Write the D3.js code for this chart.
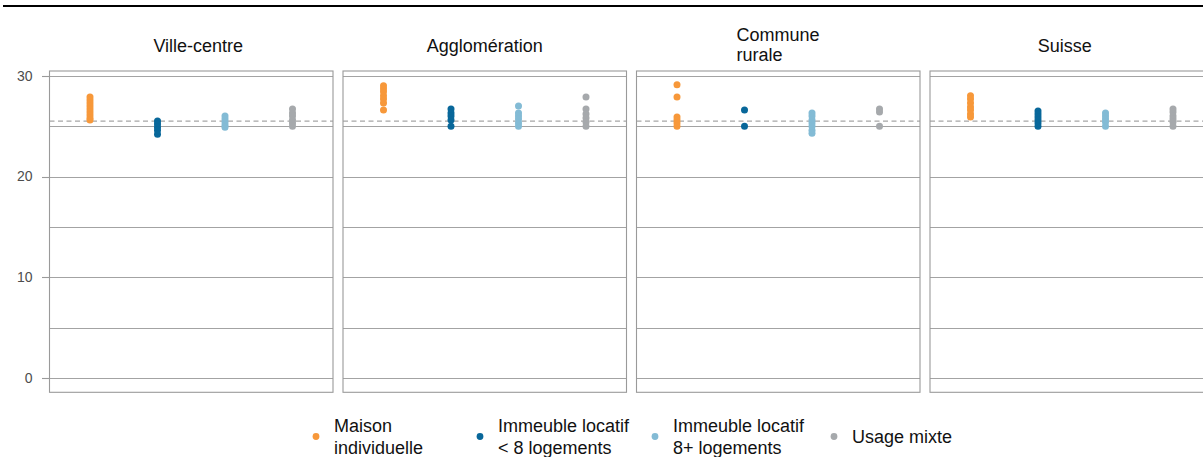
<!DOCTYPE html>
<html>
<head>
<meta charset="utf-8">
<script src="https://cdn.jsdelivr.net/npm/d3@7"></script>
<style>
  html, body { margin: 0; padding: 0; background: #fff; }
  svg { display: block; font-family: "Liberation Sans", Arial, sans-serif; }
</style>
</head>
<body>
<svg id="chart" width="1203" height="457"></svg>
<script>
// ---------- data ----------
const panels = ["Ville-centre", "Agglomération", "Commune\nrurale", "Suisse"];
const types = ["Maison individuelle", "Immeuble locatif < 8 logements", "Immeuble locatif 8+ logements", "Usage mixte"];
const legendLabels = [["Maison", "individuelle"], ["Immeuble locatif", "< 8 logements"], ["Immeuble locatif", "8+ logements"], ["Usage mixte"]];
const typeColors = ["#f7983a", "#08679a", "#83bbd5", "#a6a9ac"];
const yTicks = [0, 10, 20, 30];
const yGrid = [0, 5, 10, 15, 20, 25, 30];
const referenceValue = 25.5;

// values per panel, one array per building type (order = types)
const villeCentre = [
  [27.9, 27.6, 27.3, 27.0, 26.7, 26.4, 26.1, 25.8, 25.6],
  [25.5, 25.2, 24.9, 24.6, 24.2],
  [26.0, 25.7, 25.4, 25.1, 24.9],
  [26.7, 26.3, 26.0, 25.6, 25.3, 25.0]
];
const agglomeration = [
  [29.0, 28.7, 28.4, 28.0, 27.7, 27.3, 26.6],
  [26.7, 26.3, 26.0, 25.6, 25.0],
  [27.0, 26.3, 26.0, 25.7, 25.3, 25.0],
  [27.9, 26.7, 26.2, 25.8, 25.4, 25.0]
];
const communeRurale = [
  [29.1, 27.9, 25.9, 25.6, 25.3, 25.0],
  [26.6, 25.0],
  [26.3, 26.0, 25.6, 25.3, 25.0, 24.6, 24.3],
  [26.7, 26.4, 25.0]
];
const suisse = [
  [28.0, 27.7, 27.3, 26.9, 26.6, 26.2, 25.9],
  [26.5, 26.2, 25.9, 25.6, 25.3, 25.0],
  [26.3, 26.0, 25.7, 25.4, 25.0],
  [26.7, 26.4, 26.0, 25.7, 25.4, 25.0]
];
const panelValues = [villeCentre, agglomeration, communeRurale, suisse];

// ---------- layout ----------
const svg = d3.select("#chart");
const panelTop = 71, panelBottom = 392.3;
const panelLeft0 = 49.5, panelW = 283.5, panelGap = 10;

const y = d3.scaleLinear().domain([-1.388, 30.466]).range([panelBottom, panelTop]);
const xPanel = d3.scaleBand().domain(panels)
  .range([panelLeft0, panelLeft0 + 4 * panelW + 3 * panelGap])
  .paddingInner(panelGap / (panelW + panelGap)).paddingOuter(0);
const xType = d3.scalePoint().domain(types).range([0, panelW]).padding(0.6);
const color = d3.scaleOrdinal().domain(types).range(typeColors);

// top rule
svg.append("line").attr("x1", 3).attr("x2", 1203).attr("y1", 6).attr("y2", 6)
  .attr("stroke", "#000").attr("stroke-width", 2.2);

const snap = v => Math.round(v) + 0.5;
const titleOffsets = [7, 0, null, -7];

panels.forEach((p, i) => {
  const x0 = xPanel(p);
  const g = svg.append("g").attr("transform", `translate(${x0},0)`);
  // gridlines
  g.selectAll("line.grid").data(yGrid).enter().append("line")
    .attr("class", "grid")
    .attr("x1", 0).attr("x2", panelW)
    .attr("y1", d => snap(y(d))).attr("y2", d => snap(y(d)))
    .attr("stroke", "#a3a3a3").attr("stroke-width", 1.1);
  // reference dashed line
  g.append("line").attr("x1", 0).attr("x2", panelW)
    .attr("y1", y(referenceValue)).attr("y2", y(referenceValue))
    .attr("stroke", "#a6a6a6").attr("stroke-width", 1.3).attr("stroke-dasharray", "5,3.5");
  // border
  g.append("rect").attr("x", 0).attr("y", panelTop).attr("width", panelW)
    .attr("height", panelBottom - panelTop)
    .attr("fill", "none").attr("stroke", "#9a9a9a").attr("stroke-width", 1.1);
  // points
  types.forEach((t, j) => {
    g.selectAll(null).data(panelValues[i][j]).enter().append("circle")
      .attr("cx", xType(t)).attr("cy", d => y(d)).attr("r", 3.5)
      .attr("fill", color(t));
  });
  // title
  const lines = p.split("\n");
  if (lines.length === 1) {
    svg.append("text").attr("x", x0 + panelW / 2 + titleOffsets[i]).attr("y", 52.3)
      .attr("text-anchor", "middle").attr("font-size", 18).attr("fill", "#111").text(p);
  } else {
    const t = svg.append("text").attr("font-size", 18).attr("fill", "#111");
    lines.forEach((l, k) => {
      t.append("tspan").attr("x", x0 + 100).attr("y", 41 + k * 19.5).text(l);
    });
  }
});

// y axis (left of first panel)
const axisX = xPanel(panels[0]);
const ax = svg.append("g");
ax.selectAll("line").data(yTicks).enter().append("line")
  .attr("x1", axisX - 7.5).attr("x2", axisX)
  .attr("y1", d => snap(y(d))).attr("y2", d => snap(y(d)))
  .attr("stroke", "#9a9a9a").attr("stroke-width", 1.1);
ax.selectAll("text").data(yTicks).enter().append("text")
  .attr("x", axisX - 17).attr("y", d => y(d)).attr("dy", "0.35em")
  .attr("text-anchor", "end").attr("font-size", 14).attr("fill", "#4d4d4d")
  .text(d => d);

// legend
const legendKeyX = [316, 480, 655, 834];
const lg = svg.append("g");
types.forEach((t, j) => {
  lg.append("circle").attr("cx", legendKeyX[j]).attr("cy", 436.5).attr("r", 3.4).attr("fill", color(t));
  const lines = legendLabels[j];
  const txt = lg.append("text").attr("font-size", 18).attr("fill", "#111");
  lines.forEach((l, k) => {
    const baseY = lines.length === 1 ? 442.5 : 432 + k * 22;
    txt.append("tspan").attr("x", legendKeyX[j] + 18).attr("y", baseY).text(l);
  });
});
</script>
</body>
</html>
